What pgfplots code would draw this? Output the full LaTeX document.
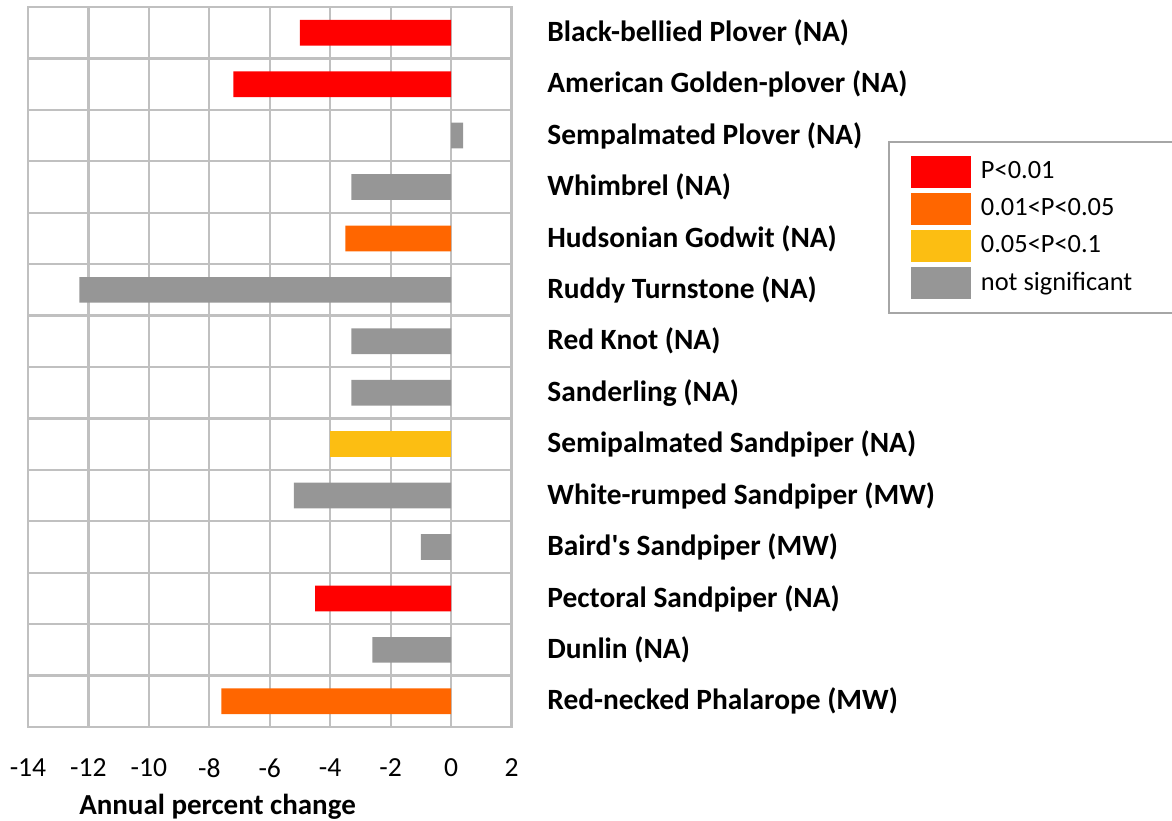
\documentclass[border=0pt]{standalone}
\usepackage{pgfplots}
\pgfplotsset{compat=1.18}
\usepackage{fontspec}
\setmainfont{Carlito}
\definecolor{cRed}{HTML}{FF0000}
\definecolor{cOrange}{HTML}{FF6600}
\definecolor{cYellow}{HTML}{FCBE12}
\definecolor{cGray}{HTML}{969696}
\definecolor{cGrid}{HTML}{C0C0C0}
\definecolor{cLeg}{HTML}{A6A6A6}
\begin{document}
\begin{tikzpicture}
\path[use as bounding box] (-14pt,-46.5pt) rectangle (572pt,363.5pt);
\begin{axis}[
  scale only axis,
  width=241.75pt, height=360pt,
  xmin=-14, xmax=2,
  ymin=-0.5, ymax=13.5,
  y dir=reverse,
  xbar, bar shift=0pt, bar width=12.85pt,
  xtick={-14,-12,...,2},
  xticklabels={-14,-12,-10,-8,-6,-4,-2,0,2},
  xticklabel style={font=\fontsize{13.8}{16}\selectfont, anchor=center, yshift=-20.5pt},
  ytick={0,...,13},
  yticklabels={Black-bellied Plover (NA),American Golden-plover (NA),Sempalmated Plover (NA),Whimbrel (NA),Hudsonian Godwit (NA),Ruddy Turnstone (NA),Red Knot (NA),Sanderling (NA),Semipalmated Sandpiper (NA),White-rumped Sandpiper (MW),Baird\textquotesingle s Sandpiper (MW),Pectoral Sandpiper (NA),Dunlin (NA),Red-necked Phalarope (MW)},
  yticklabel pos=right,
  yticklabel style={font=\fontsize{14.7}{17}\selectfont\bfseries, anchor=west, inner sep=0pt, xshift=17.75pt},
  minor ytick={0.5,1.5,...,12.5},
  xmajorgrids=true, yminorgrids=true,
  major tick length=0pt, minor tick length=0pt,
  grid style={cGrid, line width=1.1pt},
  minor grid style={cGrid, line width=1.1pt},
  axis line style={cGrid, line width=1.1pt},
  xlabel={Annual percent change},
  xlabel style={font=\fontsize{14.5}{17}\selectfont\bfseries, at={(axis description cs:0.392,0)}, anchor=center, yshift=-40pt},
  legend style={at={(1.779,0.814)}, anchor=north west, draw=cLeg, line width=0.8pt,
    font=\fontsize{13.2}{15}\selectfont, inner xsep=11pt, inner ysep=7pt,
    row sep=2.5pt, cells={anchor=west}},
  legend image code/.code={\fill[#1, draw=none] (0pt,-8pt) rectangle (30pt,8pt);},
  legend cell align=left,
]
\addplot[fill=cRed, draw=none] coordinates {(-5.0,0) (-7.2,1) (-4.5,11)};
\addlegendentry{\hspace{3pt}P<0.01}
\addplot[fill=cOrange, draw=none] coordinates {(-3.5,4) (-7.6,13)};
\addlegendentry{\hspace{3pt}0.01<P<0.05}
\addplot[fill=cYellow, draw=none] coordinates {(-4.0,8)};
\addlegendentry{\hspace{3pt}0.05<P<0.1}
\addplot[fill=cGray, draw=none] coordinates {(0.4,2) (-3.3,3) (-12.3,5) (-3.3,6) (-3.3,7) (-5.2,9) (-1.0,10) (-2.6,12)};
\addlegendentry{\makebox[87.5pt][l]{\hspace{3pt}not significant}}
\end{axis}
\end{tikzpicture}
\end{document}
